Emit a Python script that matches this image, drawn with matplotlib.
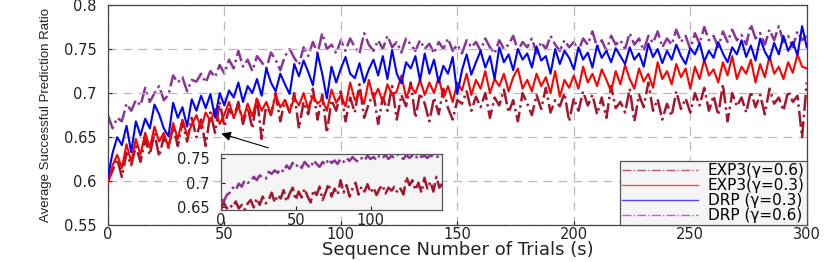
import matplotlib
matplotlib.use("Agg")
import matplotlib.pyplot as plt

# ---------------- data ----------------
x_main = list(range(0, 301, 2))

drp_03 = [0.605, 0.632, 0.650, 0.641, 0.663, 0.633, 0.668, 0.652, 0.671, 0.660,
          0.687, 0.676, 0.660, 0.651, 0.689, 0.672, 0.684, 0.662, 0.693, 0.680,
          0.697, 0.683, 0.699, 0.672, 0.700, 0.686, 0.703, 0.695, 0.712, 0.690,
          0.708, 0.700, 0.716, 0.697, 0.728, 0.712, 0.702, 0.722, 0.710, 0.699,
          0.733, 0.719, 0.737, 0.724, 0.709, 0.745, 0.722, 0.694, 0.730, 0.712,
          0.728, 0.741, 0.722, 0.717, 0.734, 0.712, 0.727, 0.738, 0.720, 0.742,
          0.716, 0.749, 0.722, 0.711, 0.735, 0.728, 0.742, 0.714, 0.745, 0.722,
          0.738, 0.712, 0.731, 0.722, 0.741, 0.699, 0.726, 0.744, 0.721, 0.735,
          0.748, 0.729, 0.742, 0.716, 0.752, 0.735, 0.744, 0.726, 0.750, 0.738,
          0.745, 0.729, 0.753, 0.737, 0.742, 0.722, 0.750, 0.733, 0.748, 0.740,
          0.727, 0.752, 0.738, 0.746, 0.729, 0.754, 0.740, 0.748, 0.735, 0.751,
          0.742, 0.733, 0.752, 0.738, 0.745, 0.730, 0.756, 0.741, 0.750, 0.734,
          0.748, 0.738, 0.755, 0.742, 0.733, 0.751, 0.744, 0.757, 0.736, 0.748,
          0.740, 0.758, 0.745, 0.735, 0.752, 0.744, 0.760, 0.741, 0.754, 0.737,
          0.762, 0.747, 0.738, 0.757, 0.744, 0.765, 0.748, 0.758, 0.743, 0.776,
          0.752]

exp3_03 = [0.597, 0.618, 0.630, 0.615, 0.642, 0.622, 0.648, 0.630, 0.655, 0.638,
           0.662, 0.645, 0.655, 0.638, 0.666, 0.648, 0.670, 0.652, 0.664, 0.675,
           0.660, 0.678, 0.668, 0.682, 0.665, 0.676, 0.690, 0.672, 0.685, 0.670,
           0.688, 0.674, 0.694, 0.680, 0.690, 0.676, 0.698, 0.684, 0.692, 0.679,
           0.695, 0.686, 0.700, 0.682, 0.697, 0.688, 0.693, 0.680, 0.704, 0.689,
           0.698, 0.685, 0.712, 0.692, 0.700, 0.688, 0.715, 0.694, 0.705, 0.690,
           0.710, 0.698, 0.702, 0.720, 0.695, 0.708, 0.700, 0.715, 0.698, 0.712,
           0.700, 0.718, 0.695, 0.708, 0.690, 0.712, 0.703, 0.722, 0.698, 0.715,
           0.705, 0.725, 0.700, 0.716, 0.708, 0.722, 0.702, 0.718, 0.728, 0.705,
           0.715, 0.702, 0.722, 0.708, 0.718, 0.700, 0.725, 0.696, 0.715, 0.706,
           0.720, 0.705, 0.730, 0.712, 0.722, 0.708, 0.727, 0.715, 0.702, 0.725,
           0.710, 0.732, 0.716, 0.705, 0.728, 0.713, 0.722, 0.706, 0.735, 0.716,
           0.725, 0.710, 0.733, 0.718, 0.728, 0.705, 0.730, 0.716, 0.738, 0.720,
           0.727, 0.712, 0.735, 0.720, 0.742, 0.716, 0.730, 0.722, 0.738, 0.712,
           0.733, 0.718, 0.742, 0.722, 0.730, 0.716, 0.735, 0.723, 0.744, 0.730,
           0.728]

exp3_06 = [0.600, 0.612, 0.625, 0.605, 0.632, 0.618, 0.640, 0.622, 0.648, 0.630,
           0.655, 0.628, 0.650, 0.638, 0.662, 0.640, 0.668, 0.645, 0.672, 0.650,
           0.670, 0.640, 0.678, 0.655, 0.690, 0.662, 0.682, 0.672, 0.690, 0.665,
           0.684, 0.660, 0.695, 0.648, 0.688, 0.675, 0.700, 0.668, 0.692, 0.678,
           0.700, 0.660, 0.690, 0.676, 0.705, 0.670, 0.698, 0.655, 0.692, 0.680,
           0.702, 0.668, 0.695, 0.678, 0.710, 0.672, 0.688, 0.700, 0.665, 0.695,
           0.680, 0.708, 0.670, 0.698, 0.685, 0.712, 0.672, 0.700, 0.688, 0.668,
           0.695, 0.676, 0.705, 0.683, 0.670, 0.692, 0.688, 0.702, 0.680, 0.696,
           0.684, 0.700, 0.672, 0.695, 0.686, 0.704, 0.678, 0.692, 0.668, 0.700,
           0.688, 0.675, 0.698, 0.682, 0.706, 0.678, 0.692, 0.685, 0.700, 0.668,
           0.694, 0.680, 0.702, 0.686, 0.698, 0.676, 0.695, 0.672, 0.708, 0.683,
           0.690, 0.678, 0.705, 0.668, 0.698, 0.684, 0.712, 0.680, 0.693, 0.670,
           0.688, 0.674, 0.702, 0.682, 0.694, 0.678, 0.700, 0.686, 0.706, 0.680,
           0.697, 0.675, 0.710, 0.668, 0.700, 0.685, 0.695, 0.678, 0.702, 0.684,
           0.698, 0.676, 0.705, 0.688, 0.695, 0.680, 0.702, 0.690, 0.697, 0.650,
           0.712]

drp_06 = [0.675, 0.660, 0.672, 0.668, 0.688, 0.680, 0.692, 0.686, 0.706, 0.690,
          0.700, 0.708, 0.692, 0.698, 0.720, 0.712, 0.718, 0.702, 0.715, 0.713,
          0.722, 0.712, 0.725, 0.718, 0.732, 0.722, 0.738, 0.728, 0.748, 0.730,
          0.738, 0.725, 0.742, 0.735, 0.728, 0.746, 0.738, 0.726, 0.742, 0.750,
          0.740, 0.732, 0.752, 0.742, 0.758, 0.745, 0.768, 0.750, 0.755, 0.745,
          0.760, 0.748, 0.762, 0.752, 0.745, 0.768, 0.755, 0.748, 0.760, 0.750,
          0.765, 0.752, 0.758, 0.746, 0.762, 0.755, 0.748, 0.760, 0.750, 0.756,
          0.745, 0.758, 0.750, 0.762, 0.748, 0.755, 0.745, 0.760, 0.752, 0.758,
          0.748, 0.762, 0.752, 0.745, 0.760, 0.750, 0.755, 0.765, 0.748, 0.758,
          0.752, 0.762, 0.745, 0.758, 0.750, 0.765, 0.755, 0.748, 0.760, 0.752,
          0.758, 0.748, 0.762, 0.755, 0.770, 0.752, 0.760, 0.748, 0.765, 0.755,
          0.760, 0.750, 0.768, 0.755, 0.762, 0.748, 0.765, 0.757, 0.770, 0.752,
          0.762, 0.755, 0.772, 0.758, 0.765, 0.750, 0.768, 0.756, 0.775, 0.760,
          0.765, 0.752, 0.770, 0.758, 0.772, 0.760, 0.766, 0.755, 0.778, 0.762,
          0.768, 0.755, 0.772, 0.760, 0.776, 0.758, 0.765, 0.752, 0.770, 0.760,
          0.765]

x_inset = list(range(0, 149, 2))

inset_drp_06 = [0.668, 0.662, 0.675, 0.680, 0.690, 0.685, 0.698, 0.692, 0.705, 0.700,
                0.702, 0.712, 0.705, 0.715, 0.710, 0.708, 0.722, 0.718, 0.725, 0.720,
                0.728, 0.722, 0.735, 0.728, 0.740, 0.732, 0.738, 0.730, 0.742, 0.735,
                0.730, 0.745, 0.738, 0.732, 0.742, 0.736, 0.748, 0.740, 0.745, 0.738,
                0.748, 0.742, 0.750, 0.744, 0.752, 0.746, 0.742, 0.750, 0.745, 0.755,
                0.748, 0.752, 0.746, 0.755, 0.750, 0.756, 0.748, 0.754, 0.750, 0.757,
                0.752, 0.748, 0.756, 0.750, 0.755, 0.749, 0.757, 0.752, 0.755, 0.750,
                0.756, 0.752, 0.754, 0.750, 0.753]

inset_exp3_06 = [0.645, 0.660, 0.648, 0.655, 0.650, 0.662, 0.648, 0.655, 0.645, 0.658,
                 0.665, 0.650, 0.668, 0.655, 0.672, 0.658, 0.665, 0.680, 0.660, 0.675,
                 0.668, 0.685, 0.662, 0.678, 0.690, 0.665, 0.682, 0.670, 0.688, 0.672,
                 0.660, 0.685, 0.675, 0.692, 0.665, 0.680, 0.698, 0.672, 0.688, 0.676,
                 0.705, 0.680, 0.695, 0.672, 0.688, 0.700, 0.676, 0.692, 0.682, 0.697,
                 0.680, 0.690, 0.675, 0.688, 0.695, 0.678, 0.690, 0.684, 0.692, 0.680,
                 0.688, 0.676, 0.712, 0.695, 0.705, 0.685, 0.700, 0.680, 0.710, 0.688,
                 0.702, 0.682, 0.712, 0.690, 0.698]

labels = ["EXP3(γ=0.6)", "EXP3(γ=0.3)", "DRP (γ=0.3)", "DRP (γ=0.6)"]
main_xticks = [0, 50, 100, 150, 200, 250, 300]
main_yticks = [0.55, 0.6, 0.65, 0.7, 0.75, 0.8]
main_yticklabels = ["0.55", "0.6", "0.65", "0.7", "0.75", "0.8"]
inset_xticks = [0, 50, 100]
inset_yticks = [0.65, 0.7, 0.75]
inset_yticklabels = ["0.65", "0.7", "0.75"]

# ---------------- style ----------------
DARKRED = "#a3172f"
RED = "#ff0000"
BLUE = "#0000ff"
PURPLE = "#8a3596"
TXT = '#222222'

plt.rcParams['font.family'] = ['DejaVu Sans']

fig = plt.figure(figsize=(8.3, 2.62), dpi=100)
ax = fig.add_axes([0.130, 0.140, 0.842, 0.841])

l1, = ax.plot(x_main, exp3_06, color=DARKRED, lw=1.8, ls='-.', label=labels[0], zorder=2)
l2, = ax.plot(x_main, exp3_03, color=RED, lw=1.5, ls='-', label=labels[1], zorder=3)
l3, = ax.plot(x_main, drp_03, color=BLUE, lw=1.5, ls='-', label=labels[2], zorder=4)
l4, = ax.plot(x_main, drp_06, color=PURPLE, lw=1.8, ls='-.', label=labels[3], zorder=1)

ax.set_xlim(0, 300)
ax.set_ylim(0.55, 0.8)
ax.set_xticks(main_xticks)
ax.set_yticks(main_yticks)
ax.set_yticklabels(main_yticklabels)
ax.tick_params(axis='both', labelsize=10.5, colors=TXT, direction='in', length=3)
ax.tick_params(axis='x', pad=1.5)
ax.tick_params(axis='y', pad=8)
ax.grid(True, color='#b8b8b8', ls=(0, (7, 5)), lw=0.9)
for s in ax.spines.values():
    s.set_color('#444444')
    s.set_linewidth(0.9)

ax.set_xlabel("Sequence Number of Trials (s)", fontsize=13, labelpad=-1, color=TXT)
ax.set_ylabel("Average Successful Prediction Ratio", fontsize=9.5,
              family=['Liberation Sans', 'DejaVu Sans'], color=TXT, labelpad=9)

leg = ax.legend(handles=[l1, l2, l3, l4], loc='lower right', fontsize=11,
                frameon=True, fancybox=False, borderpad=0.15, labelspacing=0.0,
                handlelength=5.0, handletextpad=0.6, borderaxespad=0.0)
leg.get_frame().set_facecolor('#f5f5f5')
leg.get_frame().set_edgecolor('#555555')
leg.get_frame().set_linewidth(0.9)
leg.get_frame().set_alpha(1)
for h in leg.get_lines():
    h.set_linewidth(1.0)
    h.set_alpha(0.7)

ax.annotate("", xy=(47.5, 0.655), xytext=(70, 0.637),
            arrowprops=dict(arrowstyle='-|>', color='black', lw=0.8,
                            mutation_scale=14))

# inset
ins = fig.add_axes([0.266, 0.199, 0.267, 0.213])
ins.set_facecolor('#f5f5f5')
ins.plot(x_inset, inset_exp3_06, color=DARKRED, lw=1.8, ls='-.')
ins.plot(x_inset, inset_drp_06, color=PURPLE, lw=1.8, ls='-.')
ins.set_xlim(0, 148)
ins.set_ylim(0.645, 0.758)
ins.set_xticks(inset_xticks)
ins.set_yticks(inset_yticks)
ins.set_yticklabels(inset_yticklabels)
ins.tick_params(axis='both', labelsize=10.5, colors=TXT, direction='in', length=3)
ins.tick_params(axis='x', pad=2)
ins.tick_params(axis='y', pad=8)
for s in ins.spines.values():
    s.set_color('#555555')
    s.set_linewidth(0.9)

fig.savefig("out.png", dpi=100)
